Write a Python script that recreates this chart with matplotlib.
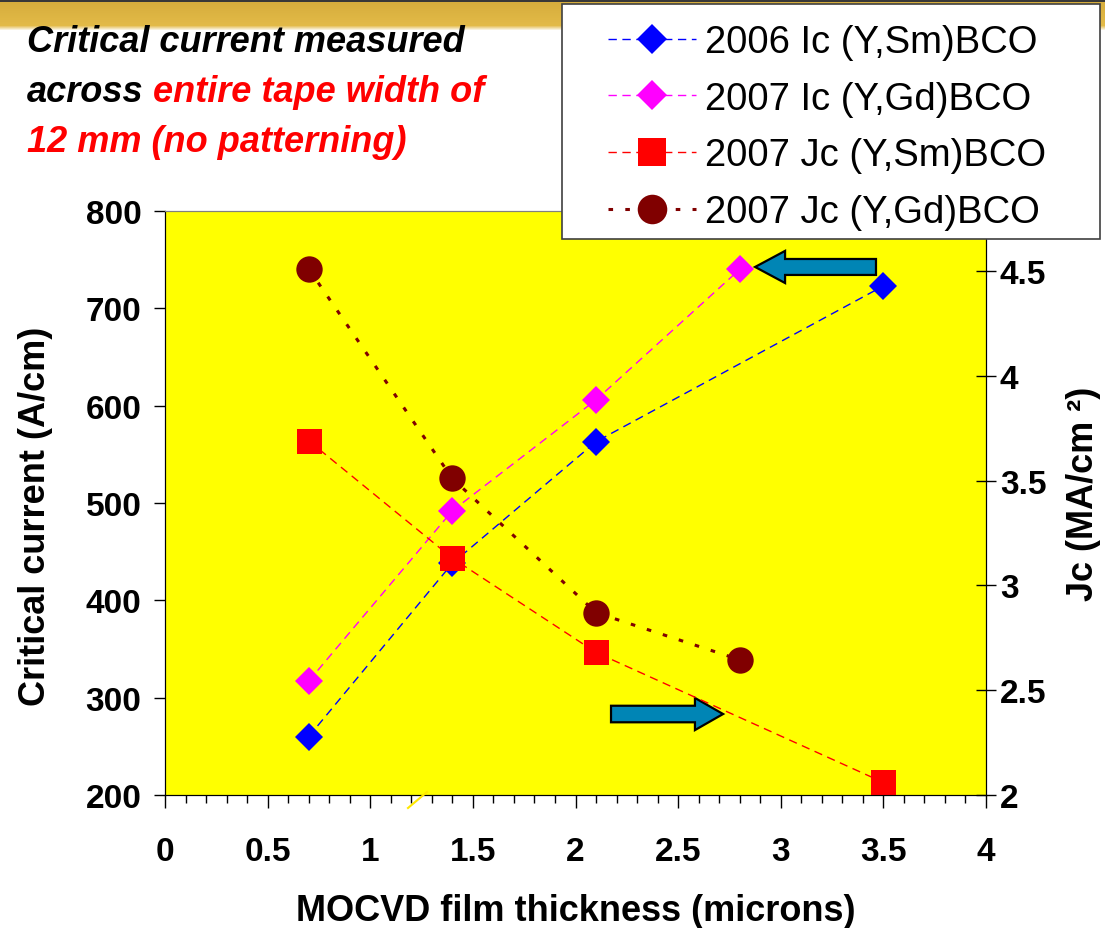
import matplotlib
matplotlib.use('Agg')
import matplotlib.pyplot as plt
import numpy as np
from matplotlib.patches import FancyArrow, Rectangle
from matplotlib.lines import Line2D

plt.rcParams['font.family'] = ['Liberation Sans', 'DejaVu Sans']

# ---------------- data ----------------
x_ic_sm_2006 = [0.7, 1.4, 2.1, 3.5]
ic_sm_2006 = [260, 438, 563, 723]
x_ic_gd_2007 = [0.7, 1.4, 2.1, 2.8]
ic_gd_2007 = [317, 492, 606, 740]
x_jc_sm_2007 = [0.7, 1.4, 2.1, 3.5]
jc_sm_2007 = [3.69, 3.13, 2.68, 2.06]
x_jc_gd_2007 = [0.7, 1.4, 2.1, 2.8]
jc_gd_2007 = [4.51, 3.51, 2.87, 2.645]

labels = ['2006 Ic (Y,Sm)BCO', '2007 Ic (Y,Gd)BCO', '2007 Jc (Y,Sm)BCO', '2007 Jc (Y,Gd)BCO']
x_ticks = [0, 0.5, 1, 1.5, 2, 2.5, 3, 3.5, 4]
x_tick_labels = ['0', '0.5', '1', '1.5', '2', '2.5', '3', '3.5', '4']
left_ticks = [200, 300, 400, 500, 600, 700, 800]
right_ticks = [2, 2.5, 3, 3.5, 4, 4.5]
right_tick_labels = ['2', '2.5', '3', '3.5', '4', '4.5']

W, H = 1105, 929
fig = plt.figure(figsize=(W / 100, H / 100), dpi=100)
fig.patch.set_facecolor('white')

def fx(px):
    return px / W

def fy(py):
    return 1 - py / H

# ---------------- top band ----------------
band_h = 32
rows = []
for i in range(band_h):
    if i < 3:
        c = (0.22, 0.22, 0.22)
    elif i < 26:
        t = (i - 3) / 23
        c = (0.84 + 0.05 * t, 0.68 + 0.05 * t, 0.24 + 0.04 * t)
    else:
        t = (i - 26) / 5
        c0 = (0.89, 0.73, 0.28)
        c = tuple(c0[k] + (1 - c0[k]) * t for k in range(3))
    rows.append(c)
band = np.array(rows).reshape(band_h, 1, 3)
bax = fig.add_axes([0, fy(band_h), 1, band_h / H], zorder=-5)
bax.imshow(band, aspect='auto', interpolation='bilinear')
bax.axis('off')

# ---------------- main axes ----------------
ax = fig.add_axes([fx(165), fy(796), 821 / W, 584 / H])
ax.set_facecolor('#FFFF00')
ax.set_xlim(0, 4)
ax.set_ylim(200, 800)

l1, = ax.plot(x_ic_sm_2006, ic_sm_2006, color='#0000FF', lw=1.0, dashes=(6, 4),
              marker='D', markersize=14, markeredgewidth=0, markerfacecolor='#0000FF')
l2, = ax.plot(x_ic_gd_2007, ic_gd_2007, color='#FF00FF', lw=1.0, dashes=(6, 4),
              marker='D', markersize=14, markeredgewidth=0, markerfacecolor='#FF00FF')

ax2 = ax.twinx()
ax2.set_ylim(2, 4.786)
l3, = ax2.plot(x_jc_sm_2007, jc_sm_2007, color='#FF0000', lw=1.0, dashes=(6, 4),
               marker='s', markersize=18, markeredgewidth=0, markerfacecolor='#FF0000')
l4, = ax2.plot(x_jc_gd_2007, jc_gd_2007, color='#800000', lw=2.2, dashes=(1.5, 4),
               marker='o', markersize=19, markeredgewidth=0, markerfacecolor='#800000')

# arrows (annotations)
ax.add_patch(FancyArrow(3.464, 742.5, 2.875 - 3.464, 0, width=16.4, head_width=33,
                        head_length=0.146, length_includes_head=True,
                        fc='#0085B5', ec='black', lw=1.6, zorder=5))
ax.add_patch(FancyArrow(2.173, 283.2, 2.719 - 2.173, 0, width=17, head_width=33,
                        head_length=0.137, length_includes_head=True,
                        fc='#0085B5', ec='black', lw=1.6, zorder=5))

# spines / ticks
ax.spines['top'].set_color('#808080')
ax2.spines['top'].set_color('#808080')
ax.spines['left'].set_color('black')
ax.spines['bottom'].set_color('black')
ax2.spines['right'].set_color('black')

ax.set_xticks(x_ticks)
ax.set_xticklabels(x_tick_labels)
ax.set_xticks(np.arange(0, 4.01, 0.1), minor=True)
ax.tick_params(axis='x', which='major', direction='out', length=9.5, width=1,
               pad=20, labelsize=24)
ax.tick_params(axis='x', which='minor', direction='out', length=6, width=1)
ax.set_yticks(left_ticks)
ax.tick_params(axis='y', which='major', direction='out', length=8, width=1,
               pad=9, labelsize=24)
ax2.set_yticks(right_ticks)
ax2.set_yticklabels(right_tick_labels)
ax2.tick_params(axis='y', which='major', direction='inout', length=14, width=1,
                pad=3, labelsize=24)
for lab in ax.get_xticklabels() + ax.get_yticklabels() + ax2.get_yticklabels():
    lab.set_fontweight('bold')

ax.set_xlabel('MOCVD film thickness (microns)', fontsize=26, fontweight='bold')
ax.xaxis.set_label_coords(0.5, -0.168)
ax.set_ylabel('Critical current (A/cm)', fontsize=26, fontweight='bold')
ax.yaxis.set_label_coords(-0.137, 0.478)

fig.text(fx(1066), fy(494), 'Jc (MA/cm \u00b2)', rotation=90, fontsize=26,
         fontweight='bold', ha='left', va='center')

# stray yellow line under axis
fig.add_artist(Line2D([fx(408), fx(427)], [fy(809), fy(793)], color='#FFE800', lw=1.5))

# ---------------- title text ----------------
tkw = dict(fontsize=26, fontweight='bold', fontstyle='italic', va='baseline', ha='left')
fig.text(fx(27), fy(52), 'Critical current measured', color='black', **tkw)
fig.text(fx(27), fy(102), 'across', color='black', **tkw)
fig.text(fx(153), fy(102), 'entire tape width of', color='#FF0000', **tkw)
fig.text(fx(27), fy(152), '12 mm (no patterning)', color='#FF0000', **tkw)

# ---------------- legend ----------------
fig.add_artist(Rectangle((fx(562), fy(240)), (1100 - 562) / W, (240 - 5) / H,
                         transform=fig.transFigure, facecolor='white',
                         edgecolor='#404040', lw=1.2, zorder=10))
leg = fig.legend([l1, l2, l3, l4], labels, loc='upper left',
                 bbox_to_anchor=(fx(608), fy(25)), frameon=False, fontsize=27.5,
                 numpoints=1, handlelength=2.3, handletextpad=0.25, markerscale=1.12,
                 labelspacing=0.54, borderpad=0, borderaxespad=0)
leg.set_zorder(11)

fig.savefig('out.png', dpi=100)
